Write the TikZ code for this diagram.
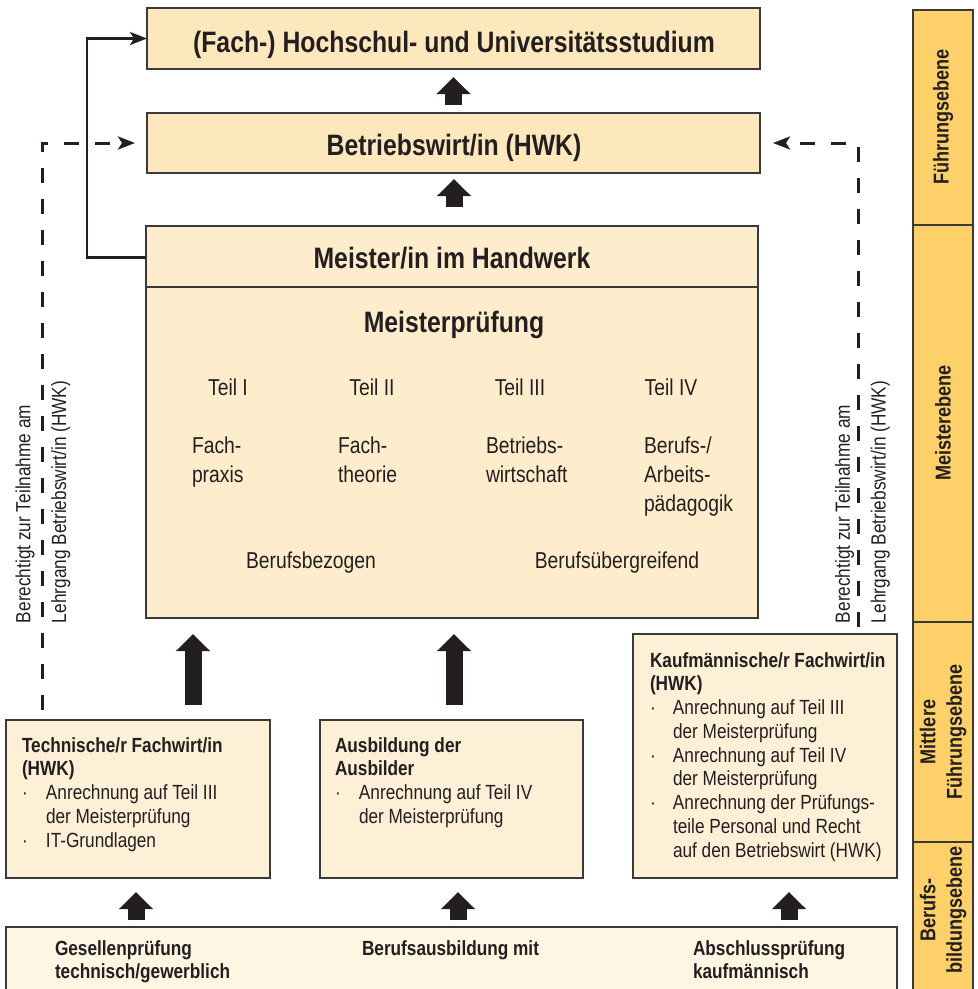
\documentclass[tikz,border=0pt]{standalone}
\usepackage{fontspec}
\setmainfont{Liberation Sans}[FakeStretch=0.84]
\usetikzlibrary{arrows.meta,calc}
\definecolor{peachA}{HTML}{FDE8BD}
\definecolor{peachB}{HTML}{FEEDCC}
\definecolor{peachC}{HTML}{FDF0D6}
\definecolor{peachD}{HTML}{FEF6E3}
\definecolor{goldbar}{HTML}{FDD06A}
\definecolor{ink}{HTML}{231F20}
\definecolor{edgec}{HTML}{3A3A3A}
\newcommand\fS{\fontsize{20.5pt}{23.75pt}\selectfont}
\newcommand\fM{\fontsize{23pt}{29pt}\selectfont}
\newcommand\fL{\fontsize{29.5pt}{34pt}\selectfont\bfseries}
\newcommand\fR{\fontsize{21.5pt}{26.5pt}\selectfont\bfseries}
\begin{document}
\begin{tikzpicture}[x=1pt,y=-1pt,
  box/.style={draw=edgec,line width=1.3pt,inner sep=0pt,outer sep=0pt},
  txt/.style={inner sep=0pt,outer sep=0pt,text=ink},
  conn/.style={draw=ink,line width=2.7pt},
  dashconn/.style={conn,line width=3pt,dash pattern=on 15pt off 16pt},
  thin arrow/.style={-{Stealth[length=17pt,width=13pt,inset=4pt]}},
  blockarrow/.style={draw=ink,line width=17pt,-{Triangle[width=33pt,length=17pt]}},
  bar/.style={draw=edgec,line width=1.3pt,fill=goldbar}]
\useasboundingbox (0,0) rectangle (978,989);

% side bar
\draw[bar] (913,10) rectangle (973,225);
\draw[bar] (913,225) rectangle (973,622);
\draw[bar] (913,622) rectangle (973,842);
\draw[bar] (913,842) rectangle (973,1000);
\node[txt,rotate=90,font=\fR] (sb1) at (943,117) {Führungsebene};
\node[txt,rotate=90,font=\fR] (sb2) at (943,423) {Meisterebene};
\node[txt,rotate=90,font=\fR,align=center] (sb3) at (943,732) {Mittlere\\Führungsebene};
\node[txt,rotate=90,font=\fR,align=center] (sb4) at (943,910) {Berufs-\\bildungsebene};

% top boxes
\node[box,fill=peachA,minimum width=613pt,minimum height=61pt] (hoch) at (453.5,38.5) {};
\node[txt,font=\fL,anchor=base] (hocht) at (454,52) {(Fach-) Hochschul- und Universitätsstudium};
\node[box,fill=peachA,minimum width=613pt,minimum height=60pt] (bw) at (453.5,143) {};
\node[txt,font=\fL,anchor=base] (bwt) at (454,155) {Betriebswirt/in (HWK)};

% Meister box
\node[box,fill=peachB,minimum width=612pt,minimum height=392pt] (meister) at (452,422) {};
\draw[edgec,line width=1.3pt] (meister.west |- 0,287) -- (meister.east |- 0,287);
\node[txt,font=\fL,anchor=base] (mtitle) at (452,268) {Meister/in im Handwerk};
\node[txt,font=\fL,anchor=base] (mp) at (454,332) {Meisterprüfung};
\node[txt,font=\fM,anchor=base] (t1) at (228,395) {Teil I};
\node[txt,font=\fM,anchor=base] (t2) at (372,395) {Teil II};
\node[txt,font=\fM,anchor=base] (t3) at (520,395) {Teil III};
\node[txt,font=\fM,anchor=base] (t4) at (671,395) {Teil IV};
\node[txt,font=\fM,anchor=north west,align=left] (f1) at (192,435.5) {\rule{0pt}{17.5pt}Fach-\\praxis};
\node[txt,font=\fM,anchor=north west,align=left] (f2) at (338,435.5) {\rule{0pt}{17.5pt}Fach-\\theorie};
\node[txt,font=\fM,anchor=north west,align=left] (f3) at (486,435.5) {\rule{0pt}{17.5pt}Betriebs-\\wirtschaft};
\node[txt,font=\fM,anchor=north west,align=left] (f4) at (644,435.5) {\rule{0pt}{17.5pt}Berufs-/\\Arbeits-\\pädagogik};
\node[txt,font=\fM,anchor=base] (bb) at (311,568) {Berufsbezogen};
\node[txt,font=\fM,anchor=base] (bu) at (617,568) {Berufsübergreifend};

% middle boxes
\node[box,fill=peachC,minimum width=264pt,minimum height=158pt] (tech) at (138,799) {};
\node[box,fill=peachC,minimum width=263pt,minimum height=158pt] (ausb) at (451.5,799) {};
\node[box,fill=peachC,minimum width=264pt,minimum height=244pt] (kauf) at (765,756) {};
\node[txt,font=\fS,anchor=north west,align=left] (techt) at (22,736) {\rule{0pt}{16pt}\textbf{Technische/r Fachwirt/in}\\
  \textbf{(HWK)}\\
  \makebox[24pt][l]{·}Anrechnung auf Teil III\\
  \hspace*{24pt}der Meisterprüfung\\
  \makebox[24pt][l]{·}IT-Grundlagen};
\node[txt,font=\fS,anchor=north west,align=left] (ausbt) at (335,736) {\rule{0pt}{16pt}\textbf{Ausbildung der}\\
  \textbf{Ausbilder}\\
  \makebox[24pt][l]{·}Anrechnung auf Teil IV\\
  \hspace*{24pt}der Meisterprüfung};
\node[txt,font=\fS,anchor=north west,align=left] (kauft) at (650,651) {\rule{0pt}{16pt}\textbf{Kaufmännische/r Fachwirt/in}\\
  \textbf{(HWK)}\\
  \makebox[23pt][l]{·}Anrechnung auf Teil III\\
  \hspace*{23pt}der Meisterprüfung\\
  \makebox[23pt][l]{·}Anrechnung auf Teil IV\\
  \hspace*{23pt}der Meisterprüfung\\
  \makebox[23pt][l]{·}Anrechnung der Prüfungs-\\
  \hspace*{23pt}teile Personal und Recht\\
  \hspace*{23pt}auf den Betriebswirt (HWK)};

% bottom box
\node[box,fill=peachD,minimum width=891pt,minimum height=73pt,anchor=north west] (basis) at (6,927) {};
\node[txt,font=\fS\bfseries,anchor=north west,align=left] (g1) at (55,939) {\rule{0pt}{16pt}Gesellenprüfung\\technisch/gewerblich};
\node[txt,font=\fS\bfseries,anchor=north west,align=left] (g2) at (362,939) {\rule{0pt}{16pt}Berufsausbildung mit};
\node[txt,font=\fS\bfseries,anchor=north west,align=left] (g3) at (693,939) {\rule{0pt}{16pt}Abschlussprüfung\\kaufmännisch};

% rotated side texts
\node[txt,font=\fS,rotate=90,anchor=west,align=left] (rl) at (43,623) {Berechtigt zur Teilnahme am\\[12pt]Lehrgang Betriebswirt/in (HWK)};
\node[txt,font=\fS,rotate=90,anchor=west,align=left] (rr) at (862.5,623) {Berechtigt zur Teilnahme am\\[12pt]Lehrgang Betriebswirt/in (HWK)};

% connectors
\coordinate (lc) at (87,0);
\coordinate (dl) at (42,0);
\coordinate (dr) at (858,0);
\draw[conn,thin arrow] (mtitle -| meister.west) -- (mtitle -| lc) |- (hoch.west);
\draw[dashconn,thin arrow,shorten <=10pt,shorten >=12pt] (tech.north -| dl) |- (bw.west);
\draw[dashconn,thin arrow,shorten <=7pt,shorten >=13pt] (kauf.north -| dr) |- (bw.east);

% block arrows
\coordinate (xa) at (193,0);
\coordinate (xb) at (454,0);
\coordinate (xc) at (136,0);
\coordinate (xd) at (458,0);
\coordinate (xe) at (789,0);
\draw[blockarrow,shorten <=8pt,shorten >=8pt] (bw.north) -- (hoch.south);
\draw[blockarrow,shorten <=19pt,shorten >=6pt] (meister.north -| xb) -- (bw.south -| xb);
\draw[blockarrow,shorten <=15pt,shorten >=16pt] (tech.north -| xa) -- (meister.south -| xa);
\draw[blockarrow,shorten <=15pt,shorten >=16pt] (ausb.north -| xb) -- (meister.south -| xb);
\draw[blockarrow,shorten <=7pt,shorten >=14pt] (basis.north -| xc) -- (tech.south -| xc);
\draw[blockarrow,shorten <=7pt,shorten >=14pt] (basis.north -| xd) -- (ausb.south -| xd);
\draw[blockarrow,shorten <=7pt,shorten >=14pt] (basis.north -| xe) -- (kauf.south -| xe);
\end{tikzpicture}
\end{document}
